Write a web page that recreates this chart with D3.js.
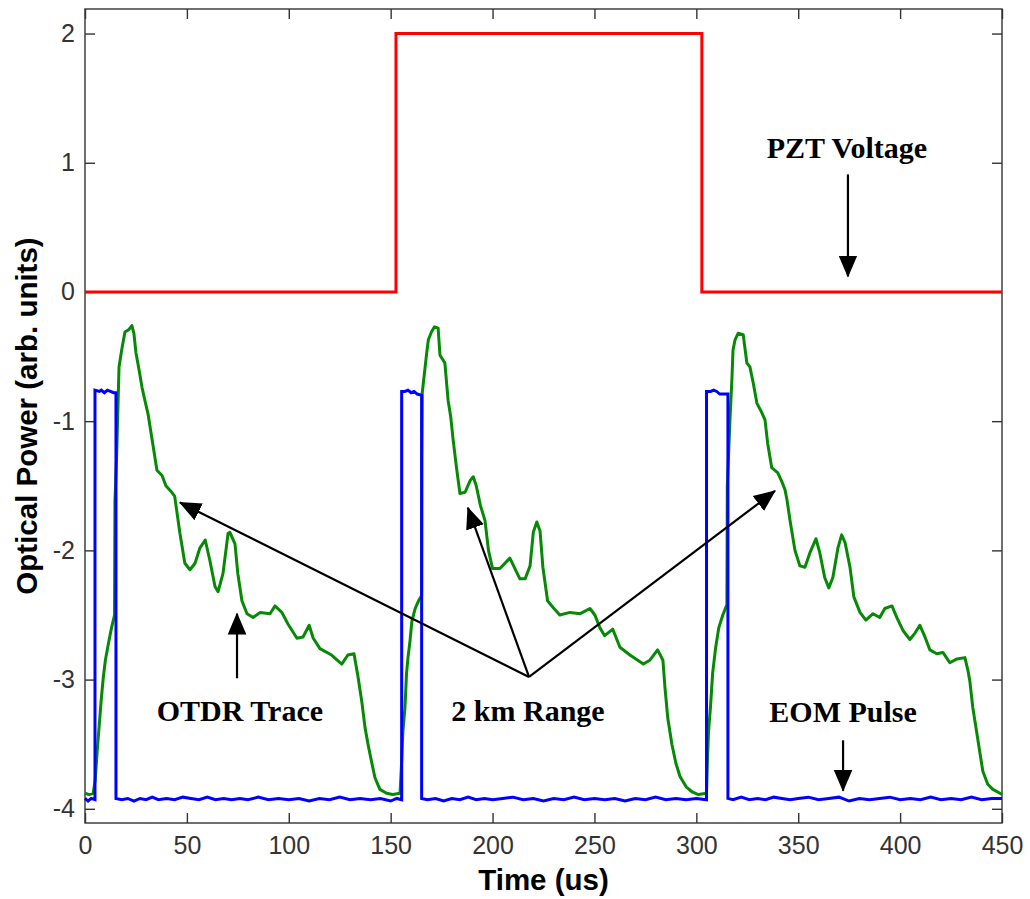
<!DOCTYPE html>
<html>
<head>
<meta charset="utf-8">
<script src="https://cdn.jsdelivr.net/npm/d3@7"></script>
<style>
  body { margin: 0; background: #fff; }
  .tick text { font-family: "Liberation Sans", Arial, sans-serif; font-size: 25px; fill: #333; }
  .axis-title { font-family: "Liberation Sans", Arial, sans-serif; font-size: 29.5px; font-weight: bold; fill: #000; }
  .note { font-family: "Liberation Serif", "Times New Roman", serif; font-size: 30px; font-weight: bold; fill: #000; }
</style>
</head>
<body>
<svg id="chart"></svg>
<script>
// Axis ticks
const xTicks = [0, 50, 100, 150, 200, 250, 300, 350, 400, 450];
const yTicks = [-4, -3, -2, -1, 0, 1, 2];

// PZT voltage (red), [time us, value]
const pztVoltage = [
  [0, 0], [152.6, 0], [152.6, 2], [302.7, 2], [302.7, 0], [450, 0]
];

// EOM pulse (blue)
const eomPulse = [
  [0, -3.92], [1.5, -3.94], [3, -3.92], [4.9, -3.93], [4.9, -0.76], [7, -0.77], [8, -0.76],
  [9.5, -0.78], [11, -0.76], [12.5, -0.77], [14, -0.78], [15.2, -0.78], [15.2, -3.92],
  [18, -3.93], [21, -3.92], [24, -3.94], [27, -3.92], [30, -3.93], [33, -3.91], [36, -3.93],
  [40, -3.92], [44, -3.93], [48, -3.91], [52, -3.92], [56, -3.93], [60, -3.91], [64, -3.93],
  [68, -3.92], [72, -3.93], [76, -3.92], [80, -3.93], [85, -3.91], [90, -3.93], [95, -3.92],
  [100, -3.93], [105, -3.92], [110, -3.94], [115, -3.92], [120, -3.93], [125, -3.91],
  [130, -3.93], [135, -3.92], [140, -3.93], [145, -3.92], [150, -3.94], [153, -3.92],
  [155.4, -3.93], [155.4, -0.77], [157, -0.77], [158.5, -0.76], [160, -0.78], [161.5, -0.77],
  [163, -0.79], [165.2, -0.80], [165.2, -3.92], [168, -3.93], [172, -3.92], [176, -3.94],
  [180, -3.92], [184, -3.93], [188, -3.91], [192, -3.93], [196, -3.92], [200, -3.93],
  [205, -3.92], [210, -3.91], [215, -3.93], [220, -3.92], [225, -3.94], [230, -3.92],
  [235, -3.93], [240, -3.91], [245, -3.93], [250, -3.92], [255, -3.93], [260, -3.92],
  [265, -3.94], [270, -3.92], [275, -3.93], [280, -3.91], [285, -3.93], [290, -3.92],
  [295, -3.93], [300, -3.92], [305, -3.93], [305, -0.77], [307, -0.77], [308.5, -0.76],
  [310, -0.77], [311.5, -0.79], [313.5, -0.79], [315.5, -0.79], [315.5, -3.92], [318, -3.93],
  [322, -3.91], [326, -3.93], [330, -3.92], [334, -3.93], [338, -3.91], [342, -3.92],
  [346, -3.93], [350, -3.92], [355, -3.91], [360, -3.93], [365, -3.92], [370, -3.91],
  [375, -3.94], [380, -3.92], [385, -3.93], [390, -3.92], [395, -3.91], [400, -3.93],
  [405, -3.92], [410, -3.93], [415, -3.91], [420, -3.93], [425, -3.92], [430, -3.93],
  [435, -3.91], [440, -3.93], [445, -3.92], [450, -3.92]
];

// OTDR trace (green)
const otdrTrace = [
  [0, -3.88], [2, -3.89], [4, -3.88], [5, -3.78], [6, -3.55], [7, -3.35], [8, -3.15], [9, -2.98],
  [10, -2.85], [11.5, -2.72], [13, -2.6], [14.5, -2.5], [14.7, -1.62], [15.5, -1.28], [16.7, -0.58],
  [18, -0.45], [19.6, -0.31], [21.6, -0.29], [23, -0.26], [24, -0.32], [25, -0.47], [26.5, -0.6],
  [28, -0.74], [29.4, -0.84], [31, -0.95], [33, -1.15], [35.3, -1.38], [37.8, -1.42], [39.7, -1.5],
  [42, -1.54], [44, -1.58], [46.6, -1.87], [49, -2.1], [51.5, -2.15], [54, -2.1], [56.4, -1.98],
  [59, -1.92], [61.3, -2.08], [63.8, -2.28], [65.3, -2.32], [67.7, -2.18], [70.2, -1.87],
  [71.1, -1.86], [73.6, -1.95], [75, -2.18], [77, -2.39], [79.5, -2.49], [82.5, -2.52], [86, -2.48],
  [90.8, -2.49], [93.2, -2.43], [96.6, -2.48], [99.6, -2.57], [104, -2.68], [107, -2.67],
  [110, -2.58], [112, -2.68], [115.3, -2.76], [121, -2.81], [126, -2.88], [129, -2.81], [132, -2.8],
  [134, -2.98], [136, -3.19], [137.4, -3.37], [139, -3.51], [140.8, -3.65], [142.3, -3.76],
  [144.7, -3.85], [148, -3.88], [151, -3.89], [154.6, -3.88],
  [155.4, -3.63], [156, -3.4], [157, -3.22], [157.8, -2.95], [158.5, -2.83], [159.5, -2.7],
  [160.4, -2.55], [162, -2.45], [164, -2.38], [165.2, -2.35], [165.3, -1.28], [165.5, -0.78],
  [167.7, -0.47], [168.5, -0.37], [170, -0.31], [171.5, -0.27], [173.3, -0.28], [174.2, -0.49],
  [176.6, -0.55], [178.2, -0.84], [179.5, -0.97], [180.7, -1.15], [182.3, -1.36], [184, -1.56],
  [186.5, -1.55], [189, -1.46], [190.5, -1.43], [192, -1.5], [194, -1.65], [196.3, -1.77],
  [198, -2.0], [200, -2.14], [203.6, -2.14], [208.5, -2.06], [213.4, -2.22], [216, -2.22],
  [218.4, -2.12], [220, -1.86], [221.7, -1.78], [223.3, -1.85], [224.7, -2.13], [227, -2.39],
  [229.6, -2.44], [233, -2.5], [238, -2.48], [243, -2.49], [247.8, -2.45], [250.2, -2.5],
  [252.7, -2.6], [255, -2.66], [259, -2.61], [262.5, -2.75], [267.4, -2.81], [274, -2.88],
  [277.2, -2.85], [281, -2.77], [283.6, -2.85], [284.6, -3.06], [286, -3.3], [288, -3.5],
  [290, -3.65], [292, -3.75], [295, -3.83], [298, -3.87], [301, -3.89], [305, -3.88],
  [305.5, -3.6], [306, -3.4], [307, -3.2], [308, -2.95], [309.5, -2.75], [311, -2.6], [313, -2.5],
  [315, -2.42], [315.2, -1.51], [316.5, -0.99], [317.5, -0.66], [318, -0.45], [319, -0.37],
  [320.5, -0.32], [323, -0.33], [324.8, -0.55], [326.3, -0.58], [328, -0.71], [329.7, -0.86],
  [332, -0.93], [333.7, -0.99], [335, -1.17], [337, -1.36], [340, -1.4], [342, -1.47],
  [343.5, -1.53], [344.5, -1.61], [346, -1.77], [348.4, -2.0], [350.8, -2.12], [353.3, -2.13],
  [355.7, -2.02], [358.7, -1.91], [360.6, -2.02], [363, -2.21], [365, -2.29], [367, -2.21],
  [369.5, -1.98], [371.3, -1.88], [373, -1.94], [375.4, -2.13], [377.3, -2.36], [380.3, -2.48],
  [383.2, -2.54], [386.7, -2.49], [390, -2.52], [392.5, -2.45], [396, -2.43], [398.4, -2.52],
  [401.4, -2.62], [404.8, -2.69], [407.3, -2.64], [409.7, -2.58], [412.2, -2.67], [414.6, -2.77],
  [418, -2.8], [421, -2.79], [424.4, -2.87], [427.9, -2.84], [431.8, -2.83], [433.3, -2.93],
  [434.2, -3.01], [435.7, -3.22], [437.7, -3.42], [439, -3.55], [440.6, -3.71], [443, -3.81],
  [445.5, -3.85], [449, -3.88], [450, -3.89]
];

// Annotations (data coordinates)
const labels = [
  { text: "PZT Voltage", x: 373.9, y: 1.04 },
  { text: "OTDR Trace", x: 76, y: -3.32 },
  { text: "2 km Range", x: 217.4, y: -3.32 },
  { text: "EOM Pulse", x: 372, y: -3.33 }
];
const arrows = [
  { x1: 374.4, y1: 0.91, x2: 374.4, y2: 0.12 },
  { x1: 372, y1: -3.47, x2: 372, y2: -3.86 },
  { x1: 74.6, y1: -2.99, x2: 74.6, y2: -2.49 },
  { x1: 217.9, y1: -2.98, x2: 46.6, y2: -1.63 },
  { x1: 217.9, y1: -2.98, x2: 187.9, y2: -1.67 },
  { x1: 217.9, y1: -2.98, x2: 338.6, y2: -1.54 }
];

const width = 1030, height = 899;
const margin = { top: 9, right: 28, bottom: 76, left: 85 };
const innerW = width - margin.left - margin.right;
const innerH = height - margin.top - margin.bottom;

const svg = d3.select("#chart").attr("width", width).attr("height", height);
const g = svg.append("g").attr("transform", `translate(${margin.left},${margin.top})`);

const x = d3.scaleLinear().domain([0, 450]).range([0, innerW]);
const y = d3.scaleLinear().domain([-4.11, 2.19]).range([innerH, 0]);

// arrowhead
svg.append("defs").append("marker")
  .attr("id", "head")
  .attr("markerUnits", "userSpaceOnUse")
  .attr("markerWidth", 22).attr("markerHeight", 20)
  .attr("viewBox", "0 -9 20 18")
  .attr("refX", 19).attr("refY", 0)
  .attr("orient", "auto")
  .append("path").attr("d", "M0,-8.5L20,0L0,8.5Z").attr("fill", "#000");

// axes, ticks inward on all four sides
const tickLen = 10;
const axisStyle = (sel) => {
  sel.select(".domain").remove();
  sel.selectAll(".tick line").attr("stroke", "#333").attr("stroke-width", 1.4);
};
g.append("g").attr("transform", `translate(0,${innerH})`)
  .call(d3.axisBottom(x).tickValues(xTicks).tickSize(-tickLen).tickPadding(13))
  .call(axisStyle);
g.append("g")
  .call(d3.axisTop(x).tickValues(xTicks).tickSize(-tickLen).tickFormat(""))
  .call(axisStyle);
g.append("g")
  .call(d3.axisLeft(y).tickValues(yTicks).tickSize(-tickLen).tickPadding(10).tickFormat(d => String(d)))
  .call(axisStyle);
g.append("g").attr("transform", `translate(${innerW},0)`)
  .call(d3.axisRight(y).tickValues(yTicks).tickSize(-tickLen).tickFormat(""))
  .call(axisStyle);

g.append("rect")
  .attr("width", innerW).attr("height", innerH)
  .attr("fill", "none").attr("stroke", "#333").attr("stroke-width", 1.4);

const line = d3.line().x(d => x(d[0])).y(d => y(d[1]));

g.append("path").datum(pztVoltage).attr("d", line)
  .attr("fill", "none").attr("stroke", "#ff0000").attr("stroke-width", 3);
g.append("path").datum(otdrTrace).attr("d", line)
  .attr("fill", "none").attr("stroke", "#068a06").attr("stroke-width", 3).attr("stroke-linejoin", "round");
g.append("path").datum(eomPulse).attr("d", line)
  .attr("fill", "none").attr("stroke", "#0000ff").attr("stroke-width", 3);

// annotations
g.selectAll(".arrow").data(arrows).join("line")
  .attr("class", "arrow")
  .attr("x1", d => x(d.x1)).attr("y1", d => y(d.y1))
  .attr("x2", d => x(d.x2)).attr("y2", d => y(d.y2))
  .attr("stroke", "#000").attr("stroke-width", 2.2)
  .attr("marker-end", "url(#head)");

g.selectAll(".note").data(labels).join("text")
  .attr("class", "note")
  .attr("x", d => x(d.x)).attr("y", d => y(d.y))
  .attr("text-anchor", "middle")
  .text(d => d.text);

// axis titles
svg.append("text").attr("class", "axis-title")
  .attr("x", margin.left + innerW / 2).attr("y", 890)
  .attr("text-anchor", "middle")
  .text("Time (us)");
svg.append("text").attr("class", "axis-title")
  .attr("transform", `translate(37,${margin.top + innerH / 2}) rotate(-90)`)
  .attr("text-anchor", "middle")
  .text("Optical Power (arb. units)");
</script>
</body>
</html>
